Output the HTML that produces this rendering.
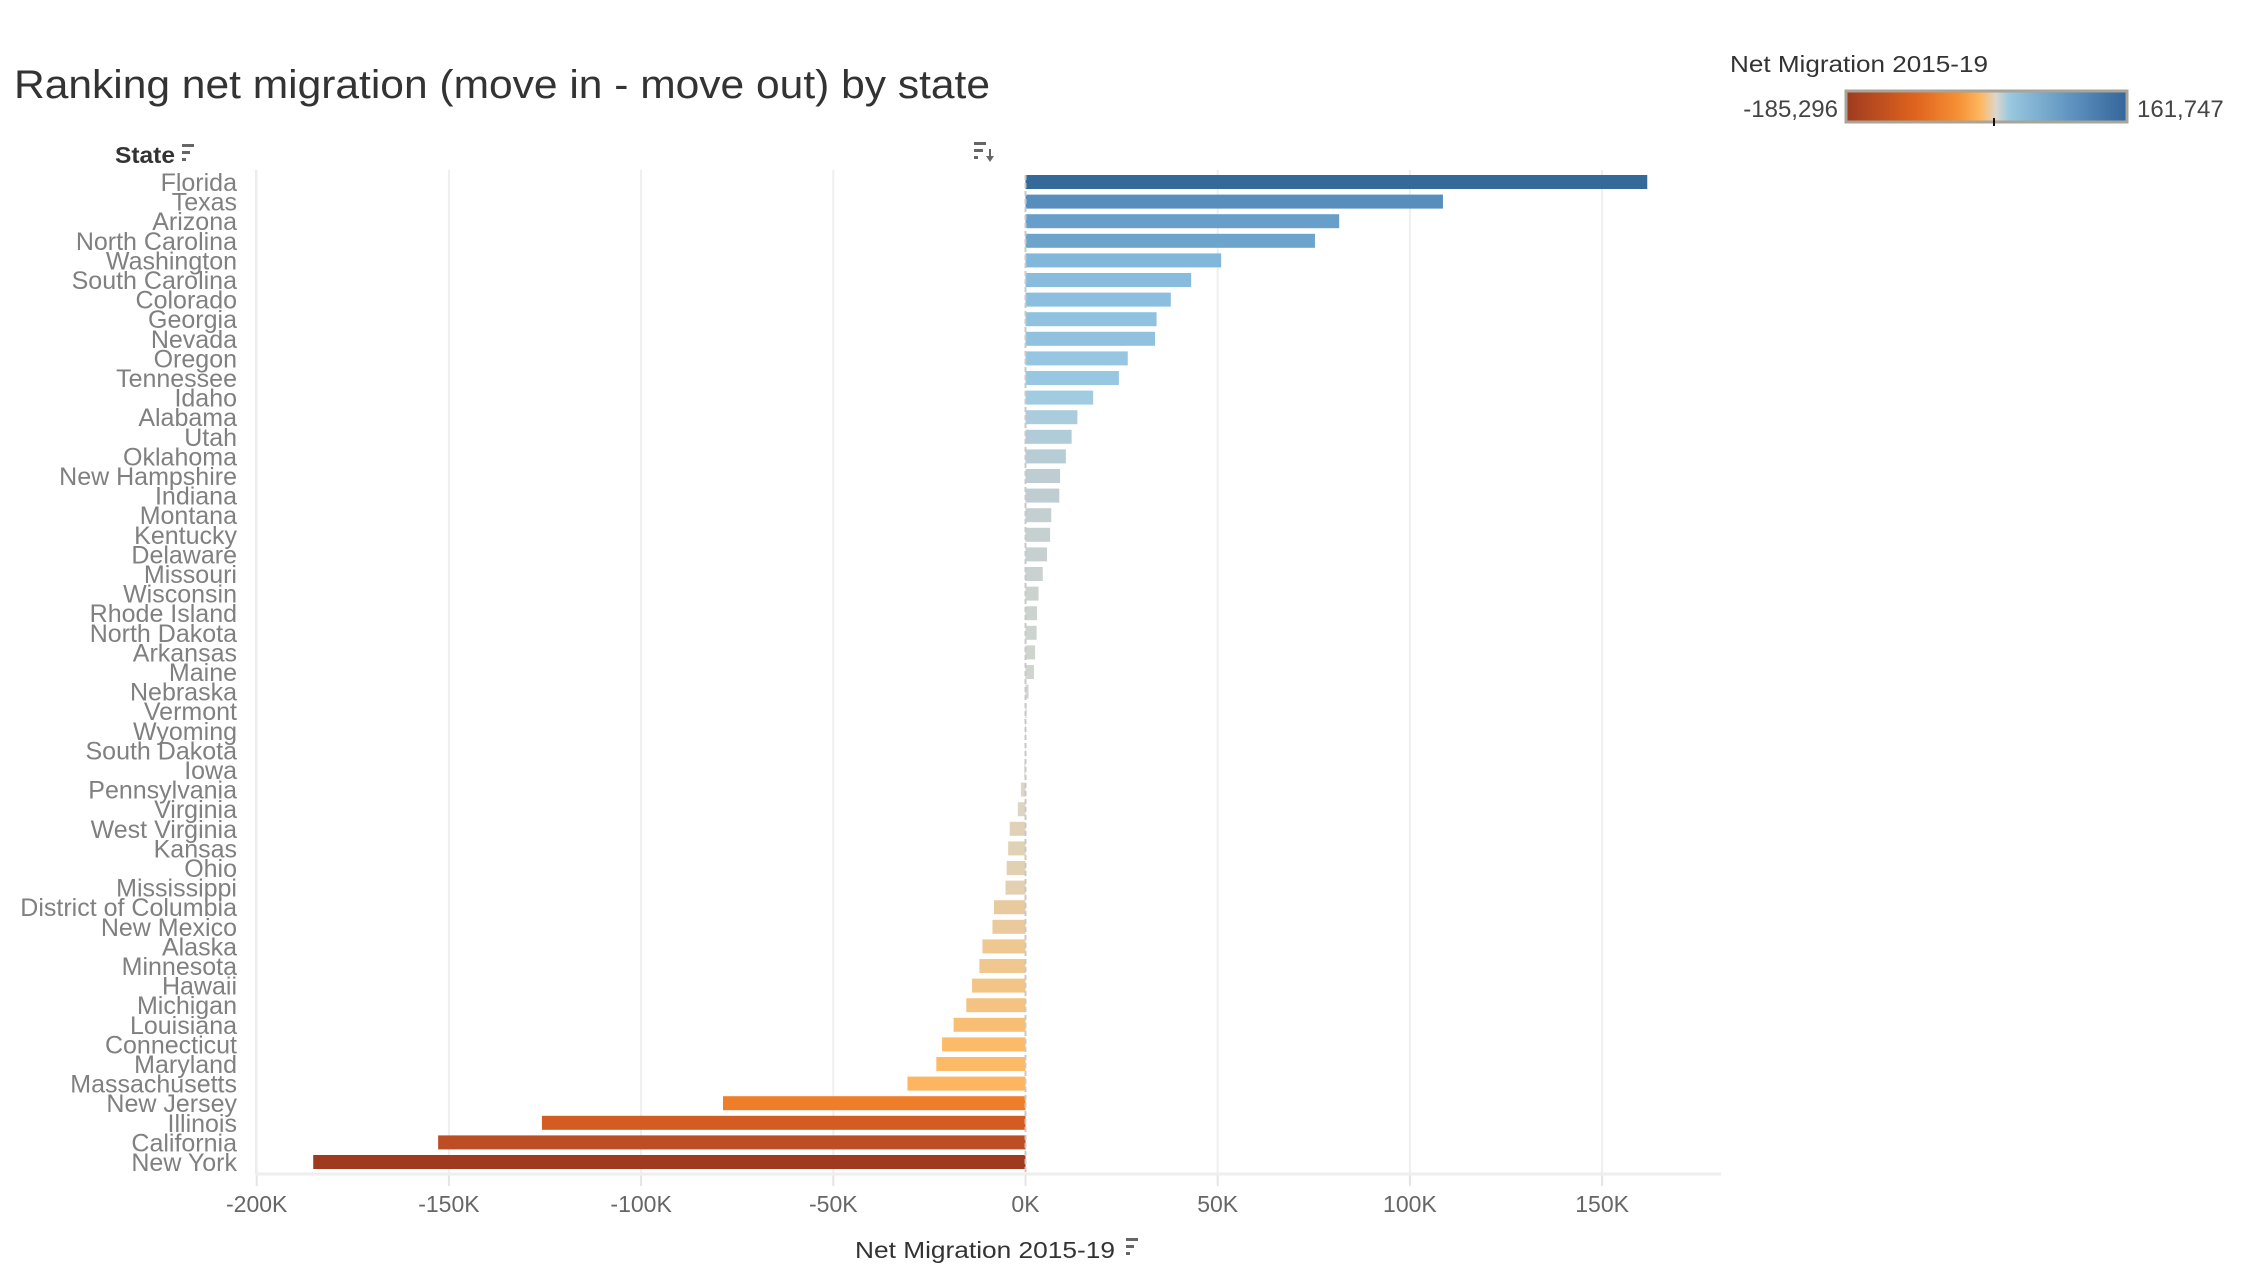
<!DOCTYPE html>
<html><head><meta charset="utf-8">
<style>
html,body{margin:0;padding:0;background:#fff;}
svg{display:block;font-family:"Liberation Sans",sans-serif;}
</style></head>
<body>
<svg id="chart" width="2256" height="1281" viewBox="0 0 2256 1281" xmlns="http://www.w3.org/2000/svg">
  <text x="14" y="98" font-size="40" fill="#333" textLength="976" lengthAdjust="spacingAndGlyphs">Ranking net migration (move in - move out) by state</text>
  <text x="115" y="163" font-size="23" font-weight="bold" fill="#333" textLength="60" lengthAdjust="spacingAndGlyphs">State</text>
  <g fill="#666">
    <rect x="182" y="144" width="12" height="3"/><rect x="182" y="151" width="8" height="3"/><rect x="182" y="158" width="4" height="3"/>
  </g>
  <g fill="#666">
    <rect x="974" y="142" width="12" height="3"/><rect x="974" y="149" width="9" height="3"/><rect x="974" y="156" width="4" height="3"/>
    <rect x="989" y="149" width="2" height="9"/><polygon points="986,156 994,156 990,162"/>
  </g>
  <g>
    <text x="1730" y="72" font-size="23" fill="#333" textLength="258" lengthAdjust="spacingAndGlyphs">Net Migration 2015-19</text>
    <defs>
      <linearGradient id="grad" x1="0" x2="1" y1="0" y2="0">
        <stop offset="0" stop-color="#9e3a20"/>
        <stop offset="0.25" stop-color="#e0641e"/>
        <stop offset="0.40" stop-color="#f69035"/>
        <stop offset="0.48" stop-color="#fdb862"/>
        <stop offset="0.534" stop-color="#dcd6cc"/>
        <stop offset="0.58" stop-color="#9ac8e0"/>
        <stop offset="0.80" stop-color="#5f93c0"/>
        <stop offset="1" stop-color="#33659a"/>
      </linearGradient>
    </defs>
    <rect x="1846" y="91" width="281" height="31" fill="url(#grad)" stroke="#a8a498" stroke-width="3"/>
    <rect x="1993" y="118" width="2" height="8" fill="#111"/>
    <text x="1838" y="117" font-size="24" fill="#444" text-anchor="end">-185,296</text>
    <text x="2137" y="117" font-size="24" fill="#444">161,747</text>
  </g>
  <g id="grid"></g>
  <g id="bars"></g>
  <g id="labels"></g>
  <g id="xaxis"></g>
  <text x="855" y="1258" font-size="23" fill="#333" textLength="260" lengthAdjust="spacingAndGlyphs">Net Migration 2015-19</text>
  <g fill="#666">
    <rect x="1126" y="1238" width="12" height="3"/><rect x="1126" y="1245" width="8" height="3"/><rect x="1126" y="1252" width="4" height="3"/>
  </g>
</svg>
<script>
const states = ["Florida","Texas","Arizona","North Carolina","Washington","South Carolina","Colorado","Georgia","Nevada","Oregon","Tennessee","Idaho","Alabama","Utah","Oklahoma","New Hampshire","Indiana","Montana","Kentucky","Delaware","Missouri","Wisconsin","Rhode Island","North Dakota","Arkansas","Maine","Nebraska","Vermont","Wyoming","South Dakota","Iowa","Pennsylvania","Virginia","West Virginia","Kansas","Ohio","Mississippi","District of Columbia","New Mexico","Alaska","Minnesota","Hawaii","Michigan","Louisiana","Connecticut","Maryland","Massachusetts","New Jersey","Illinois","California","New York"];
const netMigration = [161747,108600,81600,75300,50900,43100,37800,34100,33700,26600,24300,17600,13500,12000,10500,9000,8800,6700,6400,5600,4500,3400,3000,2900,2500,2200,800,300,100,-100,-300,-1200,-2000,-4100,-4500,-4900,-5200,-8200,-8600,-11200,-12000,-13900,-15400,-18700,-21700,-23200,-30700,-78700,-125800,-152800,-185296];
const tickValues = [-200000,-150000,-100000,-50000,0,50000,100000,150000];
const tickLabels = ["-200K","-150K","-100K","-50K","0K","50K","100K","150K"];

const NS = "http://www.w3.org/2000/svg";
const X0 = 1025.5, PX_PER = 192.2/50000;
const xScale = v => X0 + v * PX_PER;
const ROW0 = 182, PITCH = 19.6;
const yScale = i => ROW0 + i * PITCH;
const plotLeft = 256, plotRight = 1721, plotTop = 170, plotBottom = 1174;

const negStops = [[0,[220,214,204]],[-5000,[226,208,178]],[-9000,[235,201,154]],[-15000,[244,196,130]],[-22000,[252,187,104]],[-31000,[253,181,95]],[-79000,[239,126,42]],[-126000,[212,91,34]],[-153000,[188,77,37]],[-186000,[158,58,32]]];
const posStops = [[0,[214,214,208]],[3000,[205,211,207]],[9000,[190,205,210]],[14000,[168,204,222]],[20000,[155,202,226]],[35000,[143,193,224]],[51000,[128,183,219]],[76000,[107,163,204]],[110000,[87,141,189]],[162000,[52,106,154]]];
function colorFor(v){
  const st = v < 0 ? negStops : posStops;
  const a = Math.abs(v);
  for (let i=1;i<st.length;i++){
    const a0=Math.abs(st[i-1][0]), a1=Math.abs(st[i][0]);
    if (a <= a1 || i===st.length-1){
      const t = Math.max(0,Math.min(1,(a-a0)/(a1-a0)));
      const c = st[i-1][1].map((c0,k)=>Math.round(c0+(st[i][1][k]-c0)*t));
      return `rgb(${c[0]},${c[1]},${c[2]})`;
    }
  }
}
function mk(tag, attrs, parent){
  const el = document.createElementNS(NS, tag);
  for (const k in attrs) el.setAttribute(k, attrs[k]);
  parent.appendChild(el);
  return el;
}
const grid = document.getElementById('grid');
const bars = document.getElementById('bars');
const labels = document.getElementById('labels');
const xaxis = document.getElementById('xaxis');

let lb = mk('line',{x1:plotLeft,x2:plotLeft,y1:plotTop,y2:plotBottom,stroke:'#ececec','stroke-width':2},grid);



tickValues.forEach((v,i)=>{
  const x = xScale(v);
  if (v !== 0){
    const g = mk('line',{x1:x,x2:x,y1:plotTop,y2:plotBottom,stroke:'#efefef','stroke-width':2},grid);
    
    
  }
  const t = mk('line',{x1:x,x2:x,y1:plotBottom,y2:plotBottom+12,stroke:'#e4e4e4','stroke-width':2},xaxis);
  
  
  const lab = mk('text',{x:x,y:1212,'font-size':23,fill:'#666','text-anchor':'middle'},xaxis);
  lab.textContent = tickLabels[i];
  
  
});
const ax = mk('line',{x1:plotLeft,x2:plotRight,y1:plotBottom,y2:plotBottom,stroke:'#eeeeee','stroke-width':3},xaxis);



states.forEach((s,i)=>{
  const v = netMigration[i];
  const y = yScale(i);
  const x1 = xScale(Math.min(0,v)), x2 = xScale(Math.max(0,v));
  const r = mk('rect',{x:x1,y:y-7,width:Math.max(0.5,x2-x1),height:14,fill:colorFor(v)},bars);
  
  
  const t = mk('text',{x:237,y:y+9,'font-size':25,fill:'#808080','text-anchor':'end'},labels);
  t.textContent = s;
  
  
});
const zl = mk('line',{x1:X0,x2:X0,y1:plotTop+5,y2:plotBottom,stroke:'#c8c8c8','stroke-width':2,'stroke-dasharray':'5,3'},bars);


</script>
</body></html>
